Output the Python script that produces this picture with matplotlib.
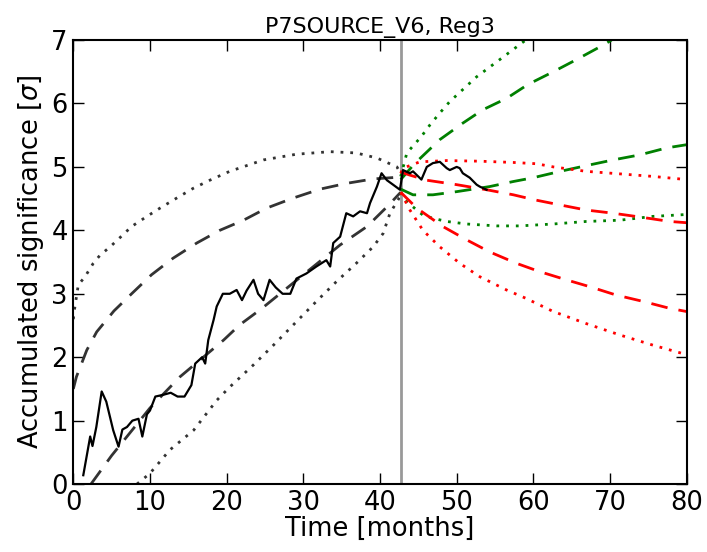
import numpy as np
import matplotlib
matplotlib.use('Agg')
import matplotlib.pyplot as plt

# --- data ---
t_now = 42.7

# observed significance (black noisy line)
obs_x = [1.3, 2.2, 2.5, 3.0, 3.7, 4.3, 5.2, 5.9, 6.4, 7.0, 7.7, 8.5, 9.0, 9.6, 10.0,
         10.7, 11.8, 12.7, 13.6, 14.5, 14.9, 15.4, 15.9, 16.8, 17.2, 17.6, 18.3, 18.7,
         19.5, 20.4, 21.3, 22.0, 22.6, 23.5, 24.1, 24.8, 25.6, 26.4, 27.3, 28.3, 29.1,
         30.4, 31.7, 33.0, 33.5, 33.9, 34.8, 35.6, 36.5, 37.4, 38.3, 38.7, 39.6, 40.2,
         40.9, 41.7, 42.6, 43.0, 43.9, 44.3, 45.4, 46.1, 46.9, 47.8, 48.7, 49.1, 50.0,
         50.4, 50.8, 51.7, 52.6, 53.0, 53.9]
obs_y = [0.14, 0.75, 0.6, 0.9, 1.46, 1.3, 0.85, 0.59, 0.86, 0.9, 1.0, 1.03, 0.75, 1.1, 1.16,
         1.38, 1.41, 1.44, 1.38, 1.38, 1.46, 1.56, 1.9, 2.0, 1.9, 2.27, 2.59, 2.8,
         3.0, 3.0, 3.06, 2.9, 3.05, 3.22, 3.0, 2.9, 3.22, 3.1, 3.0, 3.0, 3.24,
         3.32, 3.43, 3.53, 3.43, 3.8, 3.9, 4.27, 4.22, 4.3, 4.27, 4.43, 4.69, 4.9,
         4.79, 4.72, 4.64, 4.95, 4.9, 4.93, 4.8, 5.0, 5.06, 5.08, 4.98, 4.95, 5.0,
         4.98, 4.9, 4.83, 4.72, 4.69, 4.64]

# backward expectation bands (black)
bk_dash_hi_x = [0, 0.4, 1.75, 3.05, 5.3, 7.6, 10.2, 13.0, 16.1, 19.1, 22.2, 25.2, 28.7, 32.2, 35.6, 39.1, 42.7]
bk_dash_hi_y = [1.5, 1.69, 2.11, 2.4, 2.73, 3.0, 3.3, 3.56, 3.8, 4.0, 4.16, 4.35, 4.51, 4.65, 4.74, 4.81, 4.84]
bk_dot_hi_x = [0, 0.15, 0.65, 1.53, 2.6, 3.5, 4.8, 6.3, 7.6, 9.6, 11.3, 13.5, 15.6, 17.8, 20.4, 24.8, 29.1, 33.5, 36.9, 39.6, 42.2, 42.7]
bk_dot_hi_y = [2.6, 2.75, 3.14, 3.27, 3.48, 3.61, 3.74, 3.91, 4.06, 4.22, 4.35, 4.51, 4.66, 4.79, 4.93, 5.11, 5.2, 5.24, 5.22, 5.14, 5.0, 4.9]
bk_dash_lo_x = [2.3, 5.0, 8.0, 10.0, 13.9, 19.6, 21.7, 24.6, 30.0, 34.8, 38.3, 40.9, 42.7]
bk_dash_lo_y = [0.0, 0.45, 0.9, 1.2, 1.69, 2.27, 2.51, 2.77, 3.3, 3.77, 4.06, 4.37, 4.6]
bk_dot_lo_x = [8.3, 10.0, 12.6, 15.7, 18.7, 20.4, 23.5, 26.1, 29.1, 31.7, 34.3, 36.9, 39.1, 40.4, 41.3, 42.7]
bk_dot_lo_y = [0.0, 0.17, 0.54, 0.85, 1.32, 1.53, 1.88, 2.19, 2.56, 2.88, 3.19, 3.48, 3.74, 3.95, 4.27, 4.55]

# forward projections, green
gr_dot_hi_x = [42.7, 43.5, 45.4, 46.5, 47.8, 49.1, 52.6, 55.6, 58.9]
gr_dot_hi_y = [4.85, 5.22, 5.48, 5.66, 5.85, 6.03, 6.42, 6.69, 6.99]
gr_dash_hi_x = [42.7, 44.5, 47.8, 50.8, 53.4, 56.5, 59.3, 62.6, 65.6, 69.1, 70.2]
gr_dash_hi_y = [4.8, 5.05, 5.43, 5.69, 5.9, 6.08, 6.3, 6.5, 6.69, 6.92, 7.0]
gr_dash_lo_x = [42.7, 44.3, 46.9, 50.0, 54.3, 57.4, 60.0, 63.5, 66.9, 70.4, 73.9, 77.4, 80.0]
gr_dash_lo_y = [4.65, 4.56, 4.56, 4.61, 4.69, 4.77, 4.83, 4.93, 5.02, 5.11, 5.19, 5.3, 5.35]
gr_dot_lo_x = [42.7, 43.2, 45.6, 46.9, 48.7, 51.3, 55.2, 58.2, 62.6, 66.9, 71.3, 75.6, 80.0]
gr_dot_lo_y = [4.6, 4.48, 4.24, 4.19, 4.14, 4.1, 4.07, 4.07, 4.1, 4.14, 4.16, 4.22, 4.25]

# forward projections, red
rd_dot_hi_x = [42.7, 43.0, 45.2, 48.7, 53.0, 57.4, 60.4, 62.6, 66.9, 71.3, 75.6, 80.0]
rd_dot_hi_y = [4.9, 4.98, 5.08, 5.1, 5.09, 5.07, 5.05, 5.0, 4.93, 4.89, 4.85, 4.8]
rd_dash_hi_x = [42.7, 43.9, 46.1, 50.0, 53.9, 57.4, 60.2, 63.5, 66.9, 70.4, 73.9, 77.8, 80.0]
rd_dash_hi_y = [4.92, 4.87, 4.79, 4.72, 4.64, 4.56, 4.48, 4.4, 4.32, 4.27, 4.21, 4.14, 4.12]
rd_dash_lo_x = [42.7, 44.8, 48.2, 51.3, 54.3, 57.8, 60.8, 64.3, 67.4, 70.8, 74.3, 77.8, 80.0]
rd_dash_lo_y = [4.6, 4.35, 4.06, 3.85, 3.66, 3.48, 3.35, 3.22, 3.11, 2.98, 2.88, 2.77, 2.72]
rd_dot_lo_x = [42.7, 43.9, 45.6, 47.8, 50.4, 53.0, 56.5, 59.0, 62.6, 66.9, 71.3, 75.6, 80.0]
rd_dot_lo_y = [4.6, 4.32, 4.0, 3.74, 3.48, 3.27, 3.06, 2.93, 2.72, 2.53, 2.35, 2.19, 2.04]

# --- figure ---
plt.rcParams['font.size'] = 18.5
fig = plt.figure(figsize=(7.07, 5.52), dpi=100)
ax = fig.add_axes([0.1037, 0.123, 0.8676, 0.8045])

dash = (0, (6, 4))
dot = (0, (1, 2.5))

ax.plot(bk_dash_hi_x, bk_dash_hi_y, color='0.2', ls=dash, lw=2)
ax.plot(bk_dash_lo_x, bk_dash_lo_y, color='0.2', ls=dash, lw=2)
ax.plot(bk_dot_hi_x, bk_dot_hi_y, color='0.2', ls=dot, lw=2)
ax.plot(bk_dot_lo_x, bk_dot_lo_y, color='0.2', ls=dot, lw=2)

ax.axvline(t_now, color='0.6', lw=2)

ax.plot(gr_dot_hi_x, gr_dot_hi_y, color='green', ls=dot, lw=2)
ax.plot(gr_dash_hi_x, gr_dash_hi_y, color='green', ls=dash, lw=2)
ax.plot(gr_dash_lo_x, gr_dash_lo_y, color='green', ls=dash, lw=2)
ax.plot(gr_dot_lo_x, gr_dot_lo_y, color='green', ls=dot, lw=2)

ax.plot(rd_dot_hi_x, rd_dot_hi_y, color='red', ls=dot, lw=2)
ax.plot(rd_dash_hi_x, rd_dash_hi_y, color='red', ls=dash, lw=2)
ax.plot(rd_dash_lo_x, rd_dash_lo_y, color='red', ls=dash, lw=2)
ax.plot(rd_dot_lo_x, rd_dot_lo_y, color='red', ls=dot, lw=2)

ax.plot(obs_x, obs_y, color='black', lw=1.6)

ax.set_xlim(0, 80)
ax.set_ylim(0, 7)
ax.set_xticks(np.arange(0, 81, 10))
ax.set_yticks(np.arange(0, 8, 1))
ax.tick_params(direction='in', length=8, width=1, top=True, right=True, pad=4)
for s in ax.spines.values():
    s.set_linewidth(1.5)

ax.set_title('P7SOURCE_V6, Reg3', fontsize=16, pad=5)
ax.set_xlabel('Time [months]', labelpad=0)
ax.set_ylabel(r'Accumulated significance [$\sigma$]', labelpad=4)

fig.savefig('out.png', dpi=100)
